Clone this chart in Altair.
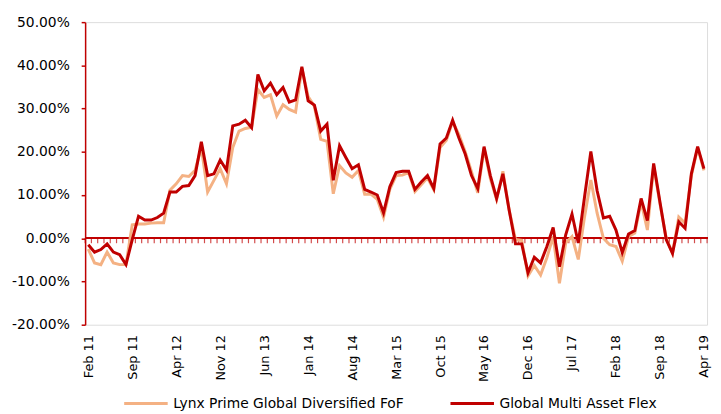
import altair as alt
import pandas as pd

tick_labels = ["Feb 11", "Sep 11", "Apr 12", "Nov 12", "Jun 13", "Jan 14", "Aug 14",
               "Mar 15", "Oct 15", "May 16", "Dec 16", "Jul 17", "Feb 18", "Sep 18", "Apr 19"]
series_names = ["Lynx Prime Global Diversified FoF", "Global Multi Asset Flex"]
colors = ["#F4B183", "#C00000"]

lynx = [-2.5, -5.7, -6.1, -3.2, -5.7, -6.1, -6.1, 3.1, 3.3, 3.3,
        3.5, 3.6, 3.6, 11.1, 12.6, 14.5, 14.3, 15.7, 21.0, 10.7,
        13.4, 16.1, 12.6, 21.0, 24.8, 25.4, 25.7, 34.4, 32.6, 33.2,
        28.3, 30.9, 29.8, 29.2, 39.3, 32.8, 30.5, 22.9, 22.4, 10.3,
        16.8, 15.1, 14.1, 15.7, 10.2, 10.2, 9.0, 4.9, 11.3, 14.5,
        14.6, 15.2, 10.8, 12.4, 14.0, 11.2, 21.0, 22.7, 27.0, 24.0,
        20.0, 15.4, 10.5, 20.8, 13.8, 9.0, 15.5, 6.5, -0.3, -0.5,
        -8.7, -6.3, -8.5, -4.5, 0.4, -10.4, -1.1, 0.4, -4.9, 5.0,
        13.5, 5.8, 0.0, -1.5, -1.9, -5.3, 0.4, 1.2, 8.4, 1.9,
        16.8, 8.0, 0.0, -3.5, 4.9, 3.5, 14.5, 20.9, 15.7]

gmaf = [-1.5, -3.2, -2.6, -1.3, -3.2, -3.8, -6.1, -0.3, 5.1, 4.2,
        4.2, 4.8, 5.8, 10.7, 10.7, 12.0, 12.2, 14.5, 22.3, 14.5,
        14.9, 18.1, 15.8, 26.0, 26.4, 27.3, 25.6, 37.9, 34.1, 35.9,
        33.2, 34.9, 31.5, 32.0, 39.7, 31.8, 30.8, 24.8, 26.4, 13.4,
        21.4, 18.7, 16.1, 17.0, 11.3, 10.7, 10.0, 5.9, 11.9, 15.2,
        15.5, 15.5, 11.3, 13.0, 14.5, 11.5, 21.8, 23.2, 27.3, 23.2,
        19.5, 14.5, 11.5, 21.2, 14.5, 9.2, 14.9, 6.5, -1.3, -1.3,
        -8.0, -4.4, -5.7, -1.9, 2.5, -6.6, 0.8, 5.6, -1.1, 9.6,
        20.1, 11.0, 4.7, 5.1, 1.9, -3.3, 1.0, 1.8, 9.2, 4.1,
        17.3, 8.4, -0.3, -3.5, 3.8, 2.3, 14.9, 21.2, 16.1]

y_ticks = [-20, -10, 0, 10, 20, 30, 40, 50]

n = len(gmaf)
step = (n - 1) // (len(tick_labels) - 1)
rows = []
for name, vals in zip(series_names, [lynx, gmaf]):
    for i, v in enumerate(vals):
        rows.append({"idx": i, "value": v, "series": name})
df = pd.DataFrame(rows)
bounds = pd.DataFrame({"b": [i - 0.5 for i in range(n + 1)]})

xscale = alt.Scale(domain=[-0.5, n - 0.5], nice=False, zero=False)
yscale = alt.Scale(domain=[y_ticks[0], y_ticks[-1]], nice=False)
cscale = alt.Scale(domain=series_names, range=colors)

label_expr = "[" + ",".join("'%s'" % t for t in tick_labels) + "][round(datum.value/%d)]" % step

x_axis = alt.Axis(values=list(range(0, n, step)), labelExpr=label_expr, labelAngle=-90,
                  domain=False, ticks=False, tickSize=0, labelPadding=10, grid=False,
                  labelFont="DejaVu Sans", labelFontSize=13, labelColor="#000000")
y_axis = alt.Axis(values=y_ticks, labelExpr="replace(format(datum.value,'.2f'),'\u2212','-') + '%'",
                  grid=False, domainColor="#C00000", domainWidth=1.5, tickColor="#C00000",
                  tickWidth=1.5, tickSize=4, labelPadding=12, labelFont="DejaVu Sans",
                  labelFontSize=14, labelColor="#000000")

legend = alt.Legend(orient="none", legendX=38, legendY=362, direction="horizontal", title=None,
                    symbolType="stroke", symbolSize=1936, symbolStrokeWidth=3,
                    labelFont="DejaVu Sans", labelFontSize=14, labelColor="#000000",
                    labelLimit=400, columnPadding=40, labelOffset=4, padding=0)

base = alt.Chart(df)

light = base.transform_filter(alt.datum.series == series_names[0]).mark_line(strokeWidth=3).encode(
    x=alt.X("idx:Q", scale=xscale, axis=x_axis, title=None),
    y=alt.Y("value:Q", scale=yscale, axis=y_axis, title=None),
    color=alt.Color("series:N", scale=cscale, legend=legend),
)
dark = base.transform_filter(alt.datum.series == series_names[1]).mark_line(strokeWidth=3).encode(
    x=alt.X("idx:Q", scale=xscale, title=None),
    y=alt.Y("value:Q", scale=yscale, title=None),
    color=alt.Color("series:N", scale=cscale, legend=legend),
)

zero = alt.Chart(bounds).mark_rule(color="#C00000", strokeWidth=1.5).encode(
    y=alt.datum(0)
)
ticks = alt.Chart(bounds).mark_tick(orient="vertical", color="#C00000", size=5, thickness=1.2,
                                    yOffset=2.5).encode(
    x=alt.X("b:Q", scale=xscale, title=None),
    y=alt.datum(0),
)

chart = alt.layer(zero, ticks, light, dark).properties(
    width=629, height=306,
    autosize=alt.AutoSizeParams(type="none"),
    padding={"left": 78, "top": 12, "right": 6, "bottom": 88},
).configure_view(stroke=None).configure(background="white")

chart.save("out.html", embed_options={"renderer": "svg", "actions": False})
